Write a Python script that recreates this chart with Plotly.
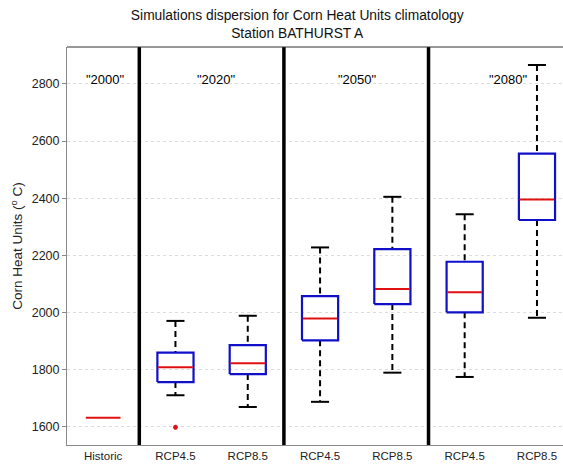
import plotly.graph_objects as go

# Box-plot statistics of simulated Corn Heat Units (°C) per scenario
categories = ["Historic", "RCP4.5", "RCP8.5", "RCP4.5", "RCP8.5", "RCP4.5", "RCP8.5"]
lower_whisker = [None, 1711, 1670, 1688, 1790, 1775, 1982]
q1 = [None, 1757, 1785, 1903, 2030, 2001, 2324]
median = [1632, 1809, 1823, 1979, 2083, 2071, 2396]
q3 = [None, 1860, 1886, 2058, 2222, 2178, 2556]
upper_whisker = [None, 1971, 1989, 2228, 2405, 2344, 2866]
outlier_pos = [2]
outlier_val = [1599]

period_labels = ['"2000"', '"2020"', '"2050"', '"2080"']
period_x = [1.03, 2.57, 4.52, 6.6]
period_y = 2815
separators = [1.5, 3.5, 5.5]

BOX_HALF = 0.25
CAP_HALF = 0.125
BLUE = "#1010c8"
RED = "#e01010"

fig = go.Figure()

for i, cat in enumerate(categories):
    x = i + 1
    if q1[i] is not None:
        # dashed whiskers
        for a, b in ((upper_whisker[i], q3[i]), (q1[i], lower_whisker[i])):
            fig.add_trace(go.Scatter(x=[x, x], y=[a, b], mode="lines",
                                     line=dict(color="black", width=2, dash="6px,4px"),
                                     hoverinfo="skip", showlegend=False))
        # whisker caps
        for v in (upper_whisker[i], lower_whisker[i]):
            fig.add_trace(go.Scatter(x=[x - CAP_HALF, x + CAP_HALF], y=[v, v], mode="lines",
                                     line=dict(color="black", width=2),
                                     hoverinfo="skip", showlegend=False))
        # box
        fig.add_trace(go.Scatter(
            x=[x - BOX_HALF, x + BOX_HALF, x + BOX_HALF, x - BOX_HALF, x - BOX_HALF],
            y=[q1[i], q1[i], q3[i], q3[i], q1[i]], mode="lines",
            line=dict(color=BLUE, width=2.2), hoverinfo="skip", showlegend=False))
    # median
    fig.add_trace(go.Scatter(x=[x - BOX_HALF + 0.01, x + BOX_HALF - 0.01], y=[median[i], median[i]],
                             mode="lines", line=dict(color=RED, width=2),
                             hoverinfo="skip", showlegend=False))

fig.add_trace(go.Scatter(x=outlier_pos, y=outlier_val, mode="markers",
                         marker=dict(symbol="asterisk", size=4, color=RED,
                                     line=dict(color=RED, width=1.5)),
                         hoverinfo="skip", showlegend=False))

shapes = []
for s in separators:
    shapes.append(dict(type="line", xref="x", yref="paper", x0=s, x1=s, y0=0, y1=1,
                       line=dict(color="black", width=3.5)))
shapes.append(dict(type="line", xref="paper", yref="paper", x0=0, x1=1, y0=1, y1=1,
                   line=dict(color="#333333", width=1)))

annotations = [dict(x=px, y=period_y, text=t, showarrow=False, xref="x", yref="y",
                    font=dict(size=13, color="black"))
               for px, t in zip(period_x, period_labels)]

fig.update_layout(
    width=563, height=467,
    margin=dict(l=67, r=0, t=47, b=22),
    paper_bgcolor="white", plot_bgcolor="white",
    font=dict(family="Liberation Sans, Arial, sans-serif", color="black"),
    shapes=shapes,
    title=dict(text="Simulations dispersion for Corn Heat Units climatology<br>Station BATHURST A",
               x=0.528, xanchor="center", y=0.958, yanchor="middle",
               font=dict(size=13.8, color="#111111")),
    annotations=annotations,
    xaxis=dict(range=[0.5, 7.36], tickmode="array", tickvals=list(range(1, 8)),
               ticktext=categories, showgrid=False, zeroline=False,
               showline=True, linecolor="#888888", linewidth=1, ticks="",
               tickfont=dict(size=11.5, color="#222222")),
    yaxis=dict(range=[1537, 2929], tickvals=[1600, 1800, 2000, 2200, 2400, 2600, 2800],
               showgrid=True, gridcolor="#dcdcdc", griddash="dot", gridwidth=1,
               zeroline=False, showline=True, linecolor="#888888", linewidth=1,
               ticks="outside", ticklen=4, tickcolor="#888888",
               tickfont=dict(size=12.5, color="#222222"),
               title=dict(text="Corn Heat Units (<sup>o</sup> C)", standoff=5,
                          font=dict(size=13.5, color="#222222"))),
)

fig.write_html("out.html")
